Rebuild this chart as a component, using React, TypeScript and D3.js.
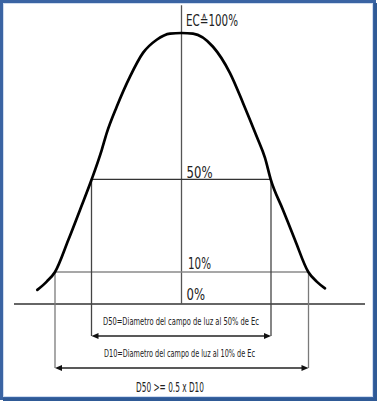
import React from "react";
import * as d3 from "d3";

// Light-field profile (x offset from centre, intensity %)
const curveX = [-144.2, -134.8, -126.5, -113.2, -101.5, -89.8, -79.8, -74.8, -64.8, -51.5, -38.5, -24.8, -11.5, 0, 11.5, 31.5, 48.5, 61.5, 75.2, 83.5, 89.2, 101.5, 113.5, 126.8, 135.2, 143.5];
const curveIntensity = [4.4, 7.0, 10, 23.8, 36.8, 50, 60.0, 65.8, 74.8, 85.1, 93.2, 97.7, 99.8, 100, 99.8, 95.3, 86.3, 76.1, 64.6, 57.3, 50, 36.8, 23.8, 10, 7.0, 4.9];

const levelValues = [100, 50, 10, 0];
const levelLabels = ["EC\u2259100%", "50%", "10%", "0%"];

const d50Ends = [-90, 89.5];
const d10Ends = [-126.5, 127];

const noteLabels = [
  "D50=Diametro del campo de luz al 50% de Ec",
  "D10=Diametro del campo de luz al 10% de Ec",
  "D50 >= 0.5 x D10",
];

const W = 377;
const H = 401;
const FONT = "'Liberation Sans Narrow', 'DejaVu Sans Condensed', 'Roboto Condensed', sans-serif";

export default function App() {
  const x = d3.scaleLinear().domain([-150, 150]).range([31.5, 331.5]);
  const y = d3.scaleLinear().domain([0, 10, 50, 100]).range([304, 272, 179.3, 33]);

  const pts: [number, number][] = curveX.map((v, i) => [v, curveIntensity[i]]);
  const line = d3
    .line<[number, number]>()
    .x((d) => x(d[0]))
    .y((d) => y(d[1]))
    .curve(d3.curveMonotoneX);

  const d50Y = 336;
  const d10Y = 368;

  const arrow = (xTip: number, yy: number, dir: number, color: string) => {
    const len = 7;
    const half = 3;
    const p = `M${xTip},${yy} L${xTip - dir * len},${yy - half} L${xTip - dir * len},${yy + half} Z`;
    return <path d={p} fill={color} />;
  };

  const labelX = [186, 186.5, 188, 186.5];
  const labelW = [52, 26, 23, 18.5];
  const labelDy = [-7, -1.5, -2.8, -4];

  return (
    <svg width={W} height={H} style={{ position: "absolute", left: 0, top: 0, background: "#fff" }}>
      {/* frame */}
      <rect x={1.5} y={1.5} width={W - 4} height={H - 4} fill="none" stroke="#3a64a3" strokeWidth={3} />
      <rect x={W - 3} y={3} width={3} height={H - 3} fill="#2f5a96" />
      <rect x={3} y={H - 3} width={W - 3} height={3} fill="#2f5a96" />
      <rect x={3.5} y={3.5} width={W - 8} height={H - 8} fill="none" stroke="#cfdcef" strokeWidth={1} />

      {/* baseline 0% */}
      <line x1={14} x2={365} y1={y(0)} y2={y(0)} stroke="#333" strokeWidth={1.4} />

      {/* central axis */}
      <line x1={x(0)} x2={x(0)} y1={y(109.5)} y2={y(0)} stroke="#555" strokeWidth={1.3} />

      {/* 10% level and D10 */}
      <line x1={x(d10Ends[0])} x2={x(d10Ends[1])} y1={y(10)} y2={y(10)} stroke="#8a8a8a" strokeWidth={1.3} />
      {d10Ends.map((e, i) => (
        <line key={"v10" + i} x1={x(e)} x2={x(e)} y1={y(10)} y2={d10Y} stroke="#7a7a7a" strokeWidth={1.3} />
      ))}
      <line x1={x(d10Ends[0]) + 4} x2={x(d10Ends[1]) - 4} y1={d10Y} y2={d10Y} stroke="#222" strokeWidth={1.3} />
      {arrow(x(d10Ends[0]), d10Y, -1, "#111")}
      {arrow(x(d10Ends[1]), d10Y, 1, "#111")}

      {/* 50% level and D50 */}
      <line x1={x(d50Ends[0])} x2={x(d50Ends[1])} y1={y(50)} y2={y(50)} stroke="#333" strokeWidth={1.3} />
      {d50Ends.map((e, i) => (
        <line key={"v50" + i} x1={x(e)} x2={x(e)} y1={y(50)} y2={d50Y} stroke="#444" strokeWidth={1.3} />
      ))}
      <line x1={x(d50Ends[0]) + 4} x2={x(d50Ends[1]) - 4} y1={d50Y} y2={d50Y} stroke="#222" strokeWidth={1.3} />
      {arrow(x(d50Ends[0]), d50Y, -1, "#111")}
      {arrow(x(d50Ends[1]), d50Y, 1, "#111")}

      {/* curve */}
      <path d={line(pts) || ""} fill="none" stroke="#000" strokeWidth={2.7} strokeLinecap="round" strokeLinejoin="round" />

      {/* level labels */}
      {levelValues.map((v, i) => (
        <text
          key={"lab" + i}
          x={labelX[i]}
          y={y(v) + labelDy[i]}
          fontFamily={FONT}
          fontSize={15}
          fill="#222"
          textLength={labelW[i]}
          lengthAdjust="spacingAndGlyphs"
        >
          {levelLabels[i]}
        </text>
      ))}

      {/* notes */}
      <text x={103} y={324.5} fontFamily={FONT} fontSize={10} fill="#222" textLength={156} lengthAdjust="spacingAndGlyphs">
        {noteLabels[0]}
      </text>
      <text x={104} y={356.5} fontFamily={FONT} fontSize={10} fill="#222" textLength={151} lengthAdjust="spacingAndGlyphs">
        {noteLabels[1]}
      </text>
      <text x={136} y={391.5} fontFamily={FONT} fontSize={14} fill="#222" textLength={68} lengthAdjust="spacingAndGlyphs">
        {noteLabels[2]}
      </text>
    </svg>
  );
}
